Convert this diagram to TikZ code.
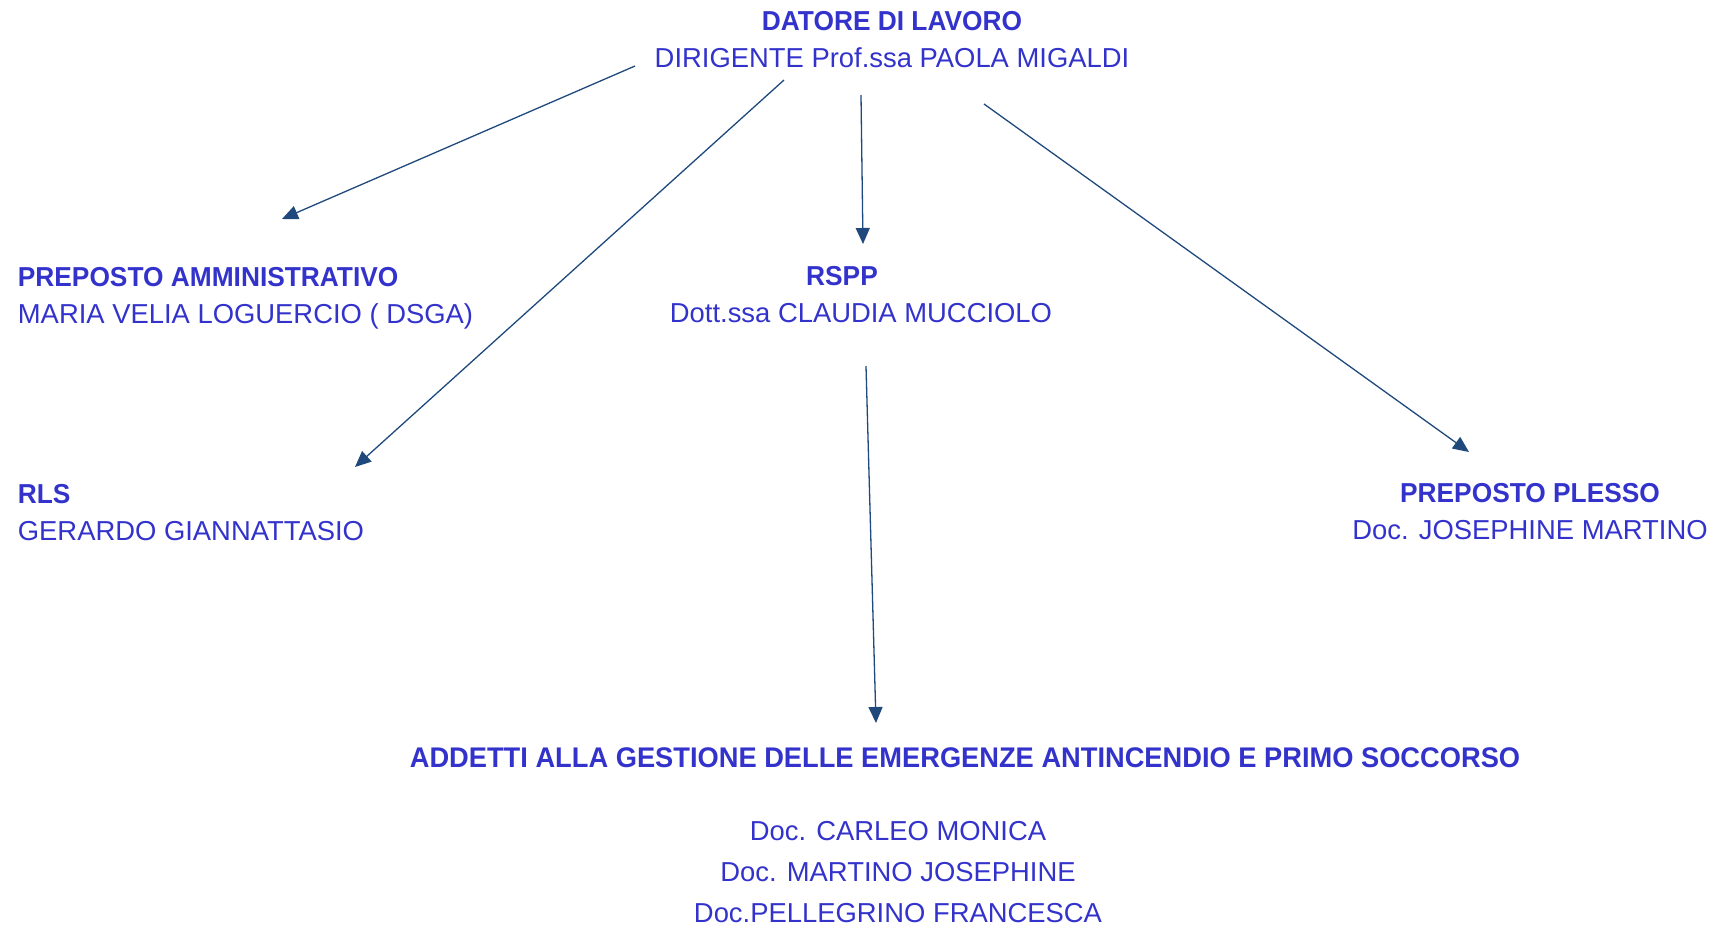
\documentclass[tikz,border=0pt]{standalone}
\usepackage{fontspec}
\setmainfont{Liberation Sans}[BoldFeatures={FakeStretch=0.96}]
\usetikzlibrary{arrows.meta}
\definecolor{testo}{RGB}{51,51,204}
\definecolor{freccia}{RGB}{31,73,125}
\tikzset{
	voce/.style={text=testo,inner sep=0pt,font=\fontsize{13.7}{18.5}\selectfont},
	collega/.style={draw=freccia,line width=0.65pt,-{Triangle[length=8pt,width=7pt]}}
}
\begin{document}
\begin{tikzpicture}[x=0.5pt,y=-0.5pt]
	\useasboundingbox (0,0) rectangle (1715,926);
	\node[voce,align=center] (datore) at (892,40) {\textbf{DATORE DI LAVORO}\\DIRIGENTE Prof.ssa PAOLA MIGALDI};
	\node[voce,align=left,anchor=west] (amm) at (17.5,298) {\textbf{PREPOSTO AMMINISTRATIVO}\\MARIA VELIA LOGUERCIO ( DSGA)};
	\node[voce,align=center] (rspp) at (861,294.5) {\textbf{RSPP}\hspace*{19pt}\\Dott.ssa CLAUDIA MUCCIOLO};
	\node[voce,align=left,anchor=west] (rls) at (17.5,512.5) {\textbf{RLS}\\GERARDO GIANNATTASIO};
	\node[voce,align=center] (plesso) at (1530,512) {\textbf{PREPOSTO PLESSO}\\Doc. JOSEPHINE MARTINO};
	\node[voce,font=\bfseries\fontsize{14.2}{18.5}\selectfont] (addetti) at (965,758) {ADDETTI ALLA GESTIONE DELLE EMERGENZE ANTINCENDIO E PRIMO SOCCORSO};
	\node[voce,align=center,font=\fontsize{13.7}{20.5}\selectfont] (elenco) at (898,872) {Doc. CARLEO MONICA\\Doc. MARTINO JOSEPHINE\\Doc.PELLEGRINO FRANCESCA};
	\coordinate (da) at (635,66);
	\coordinate (db) at (784,80);
	\coordinate (dc) at (861,95);
	\coordinate (dd) at (984,104);
	\coordinate (amm-p) at (282,219);
	\coordinate (rls-p) at (355,467);
	\coordinate (rspp-p) at (863,244);
	\coordinate (plesso-p) at (1469,452);
	\coordinate (rspp-s) at (866,366);
	\coordinate (addetti-p) at (876,723);
	\draw[collega] (da) -- (amm-p);
	\draw[collega] (db) -- (rls-p);
	\draw[collega] (dc) -- (rspp-p);
	\draw[collega] (dd) -- (plesso-p);
	\draw[collega] (rspp-s) -- (addetti-p);
\end{tikzpicture}
\end{document}
